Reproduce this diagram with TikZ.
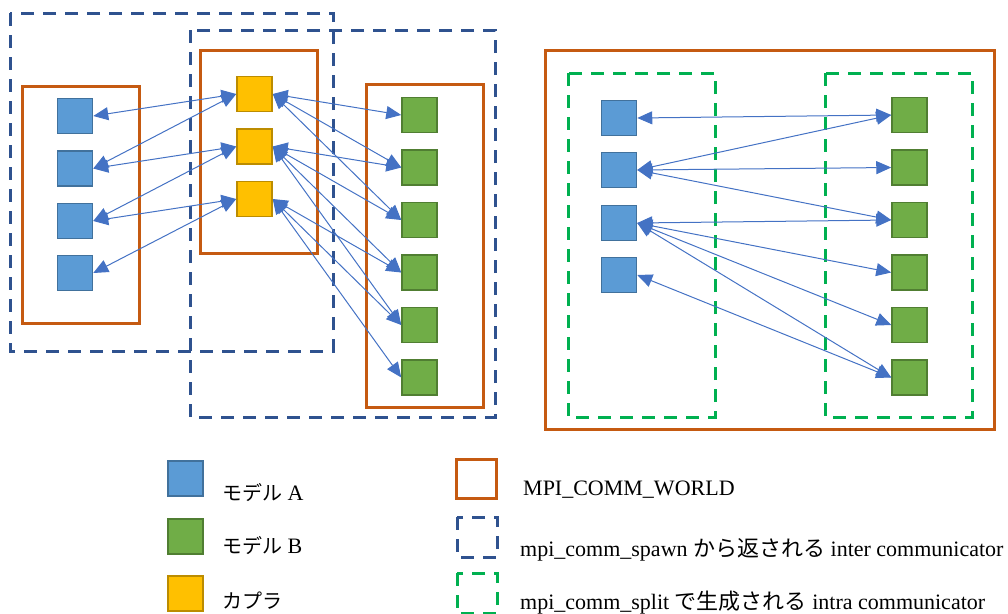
\documentclass[tikz,border=0pt]{standalone}
\usepackage{fontspec}
\setmainfont{Liberation Serif}
\newfontfamily\cjk{Noto Sans CJK JP}
\usetikzlibrary{arrows.meta}

\definecolor{modelAfill}{HTML}{5B9BD5}
\definecolor{modelAline}{HTML}{41719C}
\definecolor{modelBfill}{HTML}{70AD47}
\definecolor{modelBline}{HTML}{507E32}
\definecolor{couplerfill}{HTML}{FFC000}
\definecolor{couplerline}{HTML}{BC8C00}
\definecolor{worldline}{HTML}{C55A11}
\definecolor{interline}{HTML}{2F528F}
\definecolor{intraline}{HTML}{00B050}
\definecolor{linkcolor}{HTML}{4472C4}

\tikzset{
  proc/.style={draw, line width=1.5pt, minimum size=35pt, inner sep=0pt},
  modelA/.style={proc, fill=modelAfill, draw=modelAline},
  modelB/.style={proc, fill=modelBfill, draw=modelBline},
  coupler/.style={proc, fill=couplerfill, draw=couplerline},
  world/.style={draw=worldline, line width=3pt},
  inter/.style={draw=interline, line width=3pt, dash pattern=on 13pt off 9pt},
  intra/.style={draw=intraline, line width=3pt, dash pattern=on 13pt off 9pt},
  link/.style={draw=linkcolor, line width=1pt,
    {Triangle[length=15pt,width=13pt]}-{Triangle[length=15pt,width=13pt]}},
  keytext/.style={anchor=base west, inner sep=0pt, text=black,
    font=\fontsize{22}{26}\selectfont}
}

\begin{document}
\begin{tikzpicture}[x=1pt,y=-1pt]
\useasboundingbox (0,0) rectangle (1008,613);

% ---- left: spawned models connected through the coupler ----
\draw[inter] (10,13) rectangle (333,351);
\draw[inter] (190,30) rectangle (495,417);
\draw[world] (22,86) rectangle (139,323);
\draw[world] (200,50) rectangle (317,253);
\draw[world] (366,84) rectangle (483,407);

\foreach \i/\y in {1/116,2/168.5,3/221,4/273}
  \node[modelA] (a\i) at (75,\y) {};
\foreach \i/\y in {1/94,2/146.5,3/199}
  \node[coupler] (c\i) at (254.5,\y) {};
\foreach \i/\y in {1/115,2/167.5,3/220,4/272.5,5/325,6/377.5}
  \node[modelB] (b\i) at (419.5,\y) {};

\foreach \c/\a in {1/1,1/2,2/2,2/3,3/3,3/4}
  \draw[link] (a\a.east) -- (c\c.west);
\foreach \c/\b in {1/1,1/2,1/3,2/2,2/3,2/4,2/5,3/4,3/5,3/6}
  \draw[link] (c\c.east) -- (b\b.west);

% ---- right: models split from one world ----
\draw[world] (545,50) rectangle (994,429);
\draw[intra] (568,73) rectangle (715,417);
\draw[intra] (825,73) rectangle (972,417);

\foreach \i/\y in {1/118,2/170,3/223,4/275}
  \node[modelA] (ra\i) at (619,\y) {};
\foreach \i/\y in {1/115,2/167.5,3/220,4/272.5,5/325,6/377.5}
  \node[modelB] (rb\i) at (909.5,\y) {};

\foreach \a/\b in {1/1,2/1,2/2,2/3,3/3,3/4,3/5,3/6,4/6}
  \draw[link] (ra\a.east) -- (rb\b.west);

% ---- legend ----
\node[modelA] (keyA) at (185.5,478.5) {};
\node[modelB] (keyB) at (185.5,536.5) {};
\node[coupler] (keyC) at (185.5,593.5) {};
\node[keytext] (keyAtext) at (222,500) {{\cjk\fontsize{20}{24}\selectfont モデル} A};
\node[keytext] (keyBtext) at (222,553) {{\cjk\fontsize{20}{24}\selectfont モデル} B};
\node[keytext] (keyCtext) at (222,608) {{\cjk\fontsize{20}{24}\selectfont カプラ}};

\draw[world] (456,459) rectangle (496,498);
\draw[inter] (457,517) rectangle (497,557);
\draw[intra] (457,573) rectangle (497,613);
\node[keytext] (keyWorld) at (523,495) {MPI\_COMM\_WORLD};
\node[keytext] (keyInter) at (520,556) {mpi\_comm\_spawn {\cjk から返される} inter communicator};
\node[keytext] (keyIntra) at (520,609) {mpi\_comm\_split {\cjk で生成される} intra communicator};
\end{tikzpicture}
\end{document}
